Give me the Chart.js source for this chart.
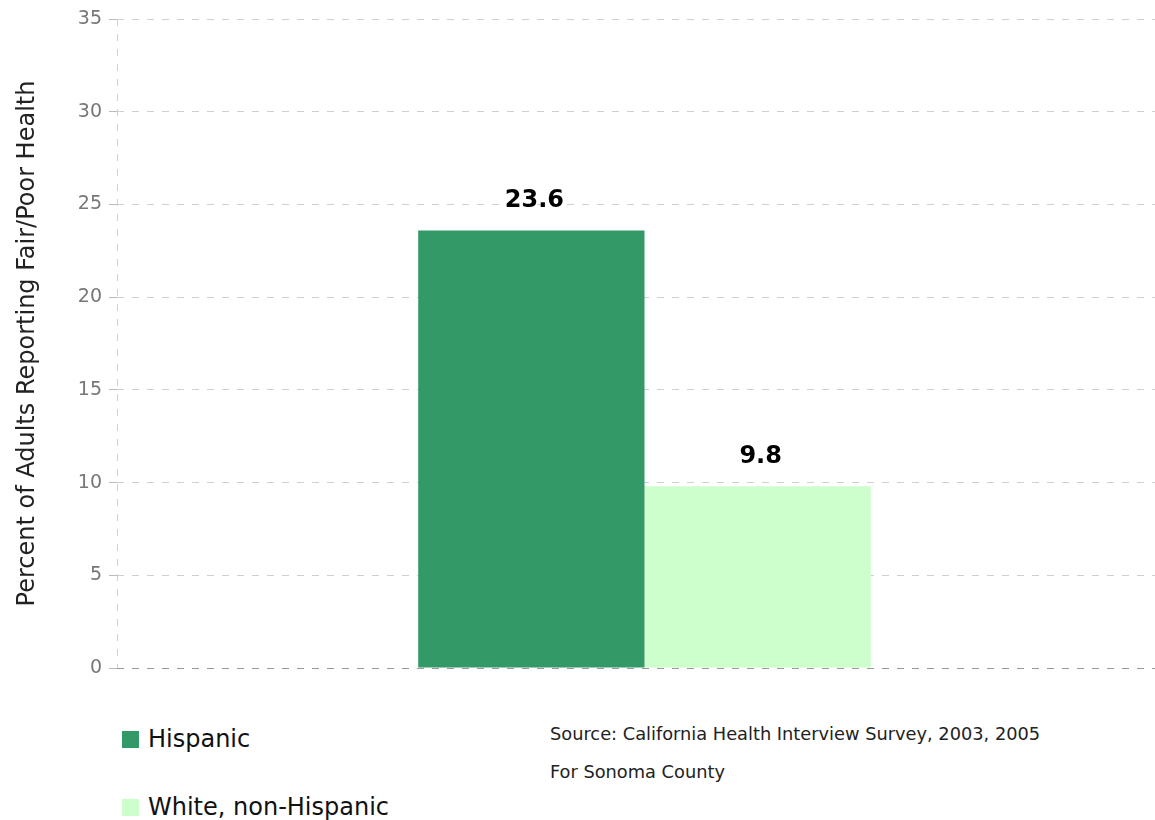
<!DOCTYPE html>
<html>
<head>
<meta charset="utf-8">
<script src="https://cdn.jsdelivr.net/npm/chart.js@4/dist/chart.umd.min.js"></script>
<style>
  html,body{margin:0;padding:0;background:#fff;overflow:hidden;width:1155px;height:820px;}
  #wrap{position:absolute;left:0;top:0;width:1172px;height:700px;}
  .leg{position:absolute;font-family:"DejaVu Sans",sans-serif;font-size:24px;color:#111;white-space:nowrap;line-height:28px;}
  .sw{position:absolute;width:17px;height:17px;}
  .src{position:absolute;left:550px;font-family:"DejaVu Sans",sans-serif;font-size:17.8px;color:#222;white-space:nowrap;line-height:22px;}
</style>
</head>
<body>
<div id="wrap"><canvas id="c" width="1172" height="700"></canvas></div>
<div class="sw" style="left:122px;top:731px;background:#339966"></div>
<div class="leg" id="l1" style="left:148px;top:725px">Hispanic</div>
<div class="sw" style="left:122px;top:799px;background:#ccffcc"></div>
<div class="leg" id="l2" style="left:148px;top:793px">White, non-Hispanic</div>
<div class="src" style="top:723px">Source: California Health Interview Survey, 2003, 2005</div>
<div class="src" style="top:761px">For Sonoma County</div>
<script>
const categories = [""];
const seriesNames = ["Hispanic", "White, non-Hispanic"];
const hispanic = [23.6];
const whiteNonHispanic = [9.8];
const yTicks = [0, 5, 10, 15, 20, 25, 30, 35];
const yTitle = "Percent of Adults Reporting Fair/Poor Health";
const colors = ["#339966", "#ccffcc"];

const labelPlugin = {
  id: 'valLabels',
  afterDatasetsDraw(chart) {
    const ctx = chart.ctx;
    ctx.save();
    ctx.font = 'bold 24px "DejaVu Sans", sans-serif';
    ctx.fillStyle = '#000';
    ctx.textAlign = 'center';
    ctx.textBaseline = 'alphabetic';
    chart.data.datasets.forEach((ds, i) => {
      chart.getDatasetMeta(i).data.forEach((bar, j) => {
        ctx.fillText(ds.data[j].toFixed(1), bar.x + 3, bar.y - 23);
      });
    });
    ctx.restore();
  }
};

new Chart(document.getElementById('c'), {
  type: 'bar',
  data: {
    labels: categories,
    datasets: [
      { label: seriesNames[0], data: hispanic, backgroundColor: colors[0] },
      { label: seriesNames[1], data: whiteNonHispanic, backgroundColor: colors[1] }
    ]
  },
  options: {
    responsive: false,
    animation: false,
    layout: { padding: { top: 19, bottom: 32, left: 0, right: 0 } },
    datasets: { bar: { categoryPercentage: 0.429, barPercentage: 1.0 } },
    plugins: { legend: { display: false }, tooltip: { enabled: false } },
    scales: {
      x: {
        ticks: { display: false },
        grid: { display: true, color: '#d0d0d0', drawTicks: false },
        border: { display: false, dash: [7, 8] }
      },
      y: {
        min: 0, max: 35,
        afterFit(scale) { scale.width = 117; },
        afterBuildTicks(scale) { scale.ticks = yTicks.map(v => ({ value: v })); },
        ticks: { color: '#777', font: { family: '"DejaVu Sans", sans-serif', size: 19 }, padding: 7 },
        grid: {
          color: ctx => (ctx.tick && ctx.tick.value === 0) ? '#999' : '#d0d0d0',
          tickLength: 8,
          tickColor: '#bbb'
        },
        border: { display: false, dash: [7, 8] },
        title: {
          display: true, text: yTitle, color: '#222',
          font: { family: '"DejaVu Sans", sans-serif', size: 24 },
          padding: { top: 13, bottom: 0 }
        }
      }
    }
  },
  plugins: [labelPlugin]
});
</script>
</body>
</html>
